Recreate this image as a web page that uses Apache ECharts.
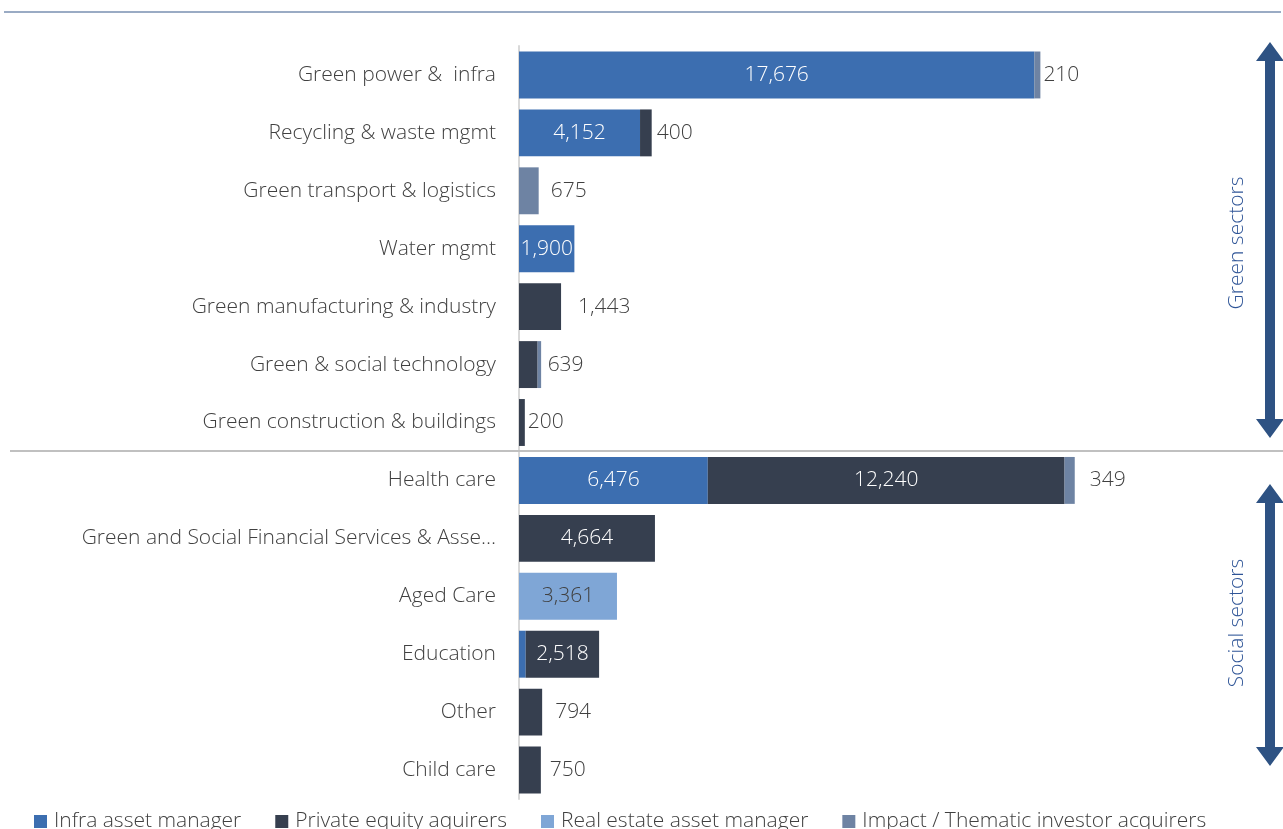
<!DOCTYPE html>
<html>
<head>
<meta charset="utf-8">
<script src="https://cdn.jsdelivr.net/npm/echarts@6/dist/echarts.min.js"></script>
<style>
  html, body { margin: 0; padding: 0; background: #fff; }
  #chart { width: 1283px; height: 829px; }
</style>
</head>
<body>
<div id="chart"></div>
<script>
// Sector rows, top to bottom
const categories = [
  'Green power &  infra',
  'Recycling & waste mgmt',
  'Green transport & logistics',
  'Water mgmt',
  'Green manufacturing & industry',
  'Green & social technology',
  'Green construction & buildings',
  'Health care',
  'Green and Social Financial Services & Asset Management',
  'Aged Care',
  'Education',
  'Other',
  'Child care'
];

// Deal value by acquirer type (null = none)
const infraAssetManager   = [17676, 4152, null, 1900, null, null, null, 6476, null, null, 230, null, null];
const privateEquity       = [null, 400, null, null, 1443, 639, 200, 12240, 4664, null, 2518, 794, 750];
const realEstateManager   = [null, null, null, null, null, null, null, null, null, 3361, null, null, null];
const impactInvestor      = [210, null, 675, null, null, 120, null, 349, null, null, null, null, null];

const seriesNames = [
  'Infra asset manager',
  'Private equity aquirers',
  'Real estate asset manager',
  'Impact / Thematic investor acquirers'
];

const sectorGroups = ['Green sectors', 'Social sectors'];

// Presentation settings
const colors = ['#3c6eb0', '#363f4f', '#7fa6d6', '#6e83a3'];
const insideTextColors = ['#ffffff', '#ffffff', '#404040', '#ffffff'];
const insideThreshold = 1800;               // segments at least this wide get an inside label
const hiddenLabels = { 0: [10], 3: [5] };    // series index -> row indexes left unlabeled
const outsideGap = [3, 5, 12, 0, 17, 10, 3, 15, 0, 0, 0, 13, 9];

const FONT = '"Open Sans", "Noto Sans", sans-serif';
const TEXT = '#404040';
const FS = 21;

const fmt = v => Number(v).toLocaleString('en-US');

function buildData(values, sIdx) {
  return values.map((v, i) => {
    if (v == null) return null;
    const hidden = (hiddenLabels[sIdx] || []).includes(i);
    let label;
    if (hidden) {
      label = { show: false };
    } else if (v >= insideThreshold) {
      label = { show: true, position: 'inside', color: insideTextColors[sIdx] };
    } else {
      label = { show: true, position: 'right', distance: outsideGap[i], color: TEXT };
    }
    return { value: v, label };
  });
}

const seriesValues = [infraAssetManager, privateEquity, realEstateManager, impactInvestor];

const chart = echarts.init(document.getElementById('chart'), null, { renderer: 'canvas' });

const option = {
  animation: false,
  backgroundColor: '#ffffff',
  grid: { left: 519, right: 181, top: 46, bottom: 30, containLabel: false },
  xAxis: {
    type: 'value', min: 0, max: 20000, show: false
  },
  yAxis: {
    type: 'category',
    data: categories,
    inverse: true,
    axisTick: { show: false },
    axisLine: { show: true, lineStyle: { color: '#d9d9d9', width: 2 } },
    axisLabel: {
      color: TEXT, fontSize: FS, fontFamily: FONT, fontWeight: 300,
      margin: 23, width: 416, overflow: 'truncate', ellipsis: '…'
    }
  },
  legend: {
    left: 29, top: 806,
    icon: 'rect', itemWidth: 13, itemHeight: 13, itemGap: 34,
    textStyle: { color: TEXT, fontSize: FS, fontFamily: FONT, fontWeight: 300, padding: [0, 0, 0, 2] },
    data: seriesNames
  },
  series: seriesValues.map((vals, s) => ({
    name: seriesNames[s],
    type: 'bar',
    stack: 'total',
    barCategoryGap: '19%',
    itemStyle: { color: colors[s] },
    label: {
      fontSize: FS, fontFamily: FONT, fontWeight: 300,
      formatter: p => fmt(p.value)
    },
    data: buildData(vals, s)
  }))
};

chart.setOption(option);

// Group separators, bracket arrows and group titles
function doubleArrow(cx, top, bottom) {
  const hw = 14, sw = 5, hh = 19;
  return [
    [cx, top], [cx + hw, top + hh], [cx + sw, top + hh],
    [cx + sw, bottom - hh], [cx + hw, bottom - hh], [cx, bottom],
    [cx - hw, bottom - hh], [cx - sw, bottom - hh], [cx - sw, top + hh],
    [cx - hw, top + hh]
  ];
}

const y6 = chart.convertToPixel({ yAxisIndex: 0 }, categories[6]);
const y7 = chart.convertToPixel({ yAxisIndex: 0 }, categories[7]);
const sepY = Math.round((y6 + y7) / 2);

const arrowColor = '#2e5283';
const groupColor = '#2f5597';

chart.setOption({
  graphic: [
    { type: 'line', shape: { x1: 4, y1: 12, x2: 1281, y2: 12 },
      style: { stroke: '#9aabc4', lineWidth: 2 }, z: 10 },
    { type: 'line', shape: { x1: 10, y1: sepY, x2: 1283, y2: sepY },
      style: { stroke: '#c0c0c0', lineWidth: 2 }, z: 10 },
    { type: 'polygon', shape: { points: doubleArrow(1270, 42, 438) },
      style: { fill: arrowColor }, z: 10 },
    { type: 'polygon', shape: { points: doubleArrow(1270, 484, 766) },
      style: { fill: arrowColor }, z: 10 },
    { type: 'text', x: 1237, y: 243, rotation: Math.PI / 2,
      style: { text: sectorGroups[0], fill: groupColor, fontSize: FS, fontFamily: FONT,
               fontWeight: 300, align: 'center', verticalAlign: 'middle' }, z: 10 },
    { type: 'text', x: 1237, y: 623, rotation: Math.PI / 2,
      style: { text: sectorGroups[1], fill: groupColor, fontSize: FS, fontFamily: FONT,
               fontWeight: 300, align: 'center', verticalAlign: 'middle' }, z: 10 }
  ]
});
</script>
</body>
</html>
